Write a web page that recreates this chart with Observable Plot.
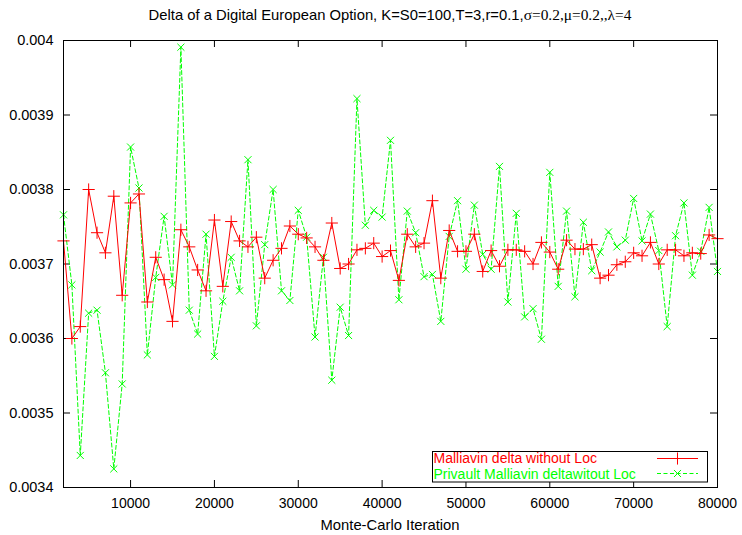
<!DOCTYPE html>
<html><head><meta charset="utf-8">
<script src="https://cdn.jsdelivr.net/npm/d3@7"></script>
<script src="https://cdn.jsdelivr.net/npm/@observablehq/plot@0.6"></script>
<style>body{margin:0;background:#fff} svg{display:block}</style>
</head><body><div id="chart"></div>
<script>
const iterations = [2000,3000,4000,5000,6000,7000,8000,9000,10000,11000,12000,13000,14000,15000,16000,17000,18000,19000,20000,21000,22000,23000,24000,25000,26000,27000,28000,29000,30000,31000,32000,33000,34000,35000,36000,37000,38000,39000,40000,41000,42000,43000,44000,45000,46000,47000,48000,49000,50000,51000,52000,53000,54000,55000,56000,57000,58000,59000,60000,61000,62000,63000,64000,65000,66000,67000,68000,69000,70000,71000,72000,73000,74000,75000,76000,77000,78000,79000,80000];

const malliavin = [0.003731,0.003600,0.003616,0.003800,0.003742,0.003715,0.003791,0.003658,0.003782,0.003794,0.003649,0.003709,0.003679,0.003623,0.003746,0.003723,0.003692,0.003664,0.003759,0.003670,0.003757,0.003731,0.003723,0.003736,0.003681,0.003705,0.003721,0.003751,0.003740,0.003735,0.003723,0.003705,0.003755,0.003694,0.003700,0.003719,0.003721,0.003728,0.003710,0.003718,0.003678,0.003740,0.003723,0.003728,0.003785,0.003681,0.003745,0.003717,0.003717,0.003740,0.003690,0.003718,0.003697,0.003719,0.003719,0.003717,0.003700,0.003729,0.003716,0.003693,0.003732,0.003720,0.003720,0.003726,0.003681,0.003685,0.003699,0.003703,0.003715,0.003711,0.003729,0.003700,0.003719,0.003719,0.003711,0.003715,0.003714,0.003739,0.003734];

const privault = [0.003766,0.003672,0.003443,0.003634,0.003638,0.003554,0.003425,0.003539,0.003857,0.003802,0.003578,0.003682,0.003764,0.003672,0.003991,0.003638,0.003606,0.003740,0.003576,0.003650,0.003709,0.003664,0.003840,0.003617,0.003726,0.003800,0.003664,0.003651,0.003772,0.003736,0.003602,0.003709,0.003544,0.003642,0.003604,0.003922,0.003752,0.003772,0.003763,0.003866,0.003652,0.003771,0.003742,0.003683,0.003686,0.003623,0.003737,0.003785,0.003693,0.003779,0.003713,0.003693,0.003831,0.003649,0.003768,0.003629,0.003640,0.003599,0.003823,0.003670,0.003771,0.003656,0.003756,0.003691,0.003716,0.003743,0.003723,0.003732,0.003788,0.003731,0.003767,0.003718,0.003616,0.003738,0.003782,0.003685,0.003717,0.003776,0.003690];

const yTicks = [0.0034,0.0035,0.0036,0.0037,0.0038,0.0039,0.004];
const yTickLabels = ["0.0034","0.0035","0.0036","0.0037","0.0038","0.0039","0.004"];
const xTicks = [10000,20000,30000,40000,50000,60000,70000,80000];
const xTickLabels = ["10000","20000","30000","40000","50000","60000","70000","80000"];
const seriesNames = ["Malliavin delta without Loc","Privault Malliavin deltawitout Loc"];
const xLabel = "Monte-Carlo Iteration";
const titleSans = "Delta of a Digital European Option, K=S0=100,T=3,r=0.1,";
const titleSerif = "\u03c3=0.2,\u03bc=0.2,,\u03bb=4";

const red = iterations.map((x, i) => ({x, y: malliavin[i]}));
const green = iterations.map((x, i) => ({x, y: privault[i]}));

const W = 742, H = 535, mL = 63, mR = 25, mT = 40, mB = 48;
const pw = W - mL - mR, ph = H - mT - mB, tk = 7;
const FONT = "'Liberation Sans', Arial, sans-serif";

const chart = Plot.plot({
  width: W, height: H,
  marginLeft: mL, marginRight: mR, marginTop: mT, marginBottom: mB,
  style: {fontFamily: FONT, fontSize: "14px", color: "#000", background: "#fff"},
  x: {domain: [2000, 80000]},
  y: {domain: [0.0034, 0.004]},
  marks: [
    Plot.axisY(yTicks, {tickSize: 0, tickPadding: 10, tickFormat: d => yTickLabels[yTicks.indexOf(d)], label: null, fontSize: 14.5}),
    Plot.axisX(xTicks, {tickSize: 0, tickPadding: 11, tickFormat: d => xTickLabels[xTicks.indexOf(d)], label: null, fontSize: 14}),
    Plot.tickY(yTicks, {y: d => d, insetRight: pw - tk, stroke: "#000"}),
    Plot.tickY(yTicks, {y: d => d, insetLeft: pw - tk, stroke: "#000"}),
    Plot.tickX(xTicks, {x: d => d, insetTop: ph - tk, stroke: "#000"}),
    Plot.tickX(xTicks, {x: d => d, insetBottom: ph - tk, stroke: "#000"}),
    Plot.line(green, {x: "x", y: "y", stroke: "#00ff00", strokeWidth: 1, strokeDasharray: "4,2.5"}),
    Plot.dot(green, {x: "x", y: "y", symbol: "times", r: 3.3, stroke: "#00ff00", strokeWidth: 1}),
    Plot.line(red, {x: "x", y: "y", stroke: "#ff0000", strokeWidth: 1}),
    Plot.dot(red, {x: "x", y: "y", symbol: "plus", r: 4, stroke: "#ff0000", strokeWidth: 1}),
    Plot.frame({stroke: "#000", strokeWidth: 1})
  ]
});

const svg = d3.select(chart);
// title
const t = svg.append("text").attr("x", mL + pw / 2).attr("y", 19.5).attr("text-anchor", "middle")
  .attr("font-size", 14.8).attr("fill", "#000").attr("font-family", FONT);
t.append("tspan").text(titleSans);
t.append("tspan").attr("font-family", "'Liberation Serif', serif").attr("font-size", 15.4).text(titleSerif);

// x axis label
svg.append("text").attr("x", mL + pw / 2).attr("y", 530).attr("text-anchor", "middle")
  .attr("font-size", 14.8).attr("font-family", FONT).attr("fill", "#000").text(xLabel);

// legend
const lg = svg.append("g").attr("text-anchor", "start");
lg.append("rect").attr("x", 432.5).attr("y", 451.5).attr("width", 275).attr("height", 30.5)
  .attr("fill", "#fff").attr("stroke", "#000");
const rows = [
  {name: seriesNames[0], color: "red", dash: "none", sym: d3.symbolPlus, size: 50, y: 458.5, base: 463},
  {name: seriesNames[1], color: "lime", dash: "4,2.5", sym: d3.symbolTimes, size: 34, y: 473.5, base: 478.8}
];
rows.forEach(r => {
  lg.append("text").attr("x", 433.5).attr("y", r.base).attr("text-anchor", "start").attr("font-size", 14)
    .attr("font-family", FONT).attr("fill", r.color).text(r.name);
  lg.append("path").attr("d", `M657,${r.y}H698`)
    .attr("fill", "none").attr("stroke", r.color).attr("stroke-width", 1).attr("stroke-dasharray", r.dash);
  lg.append("path").attr("d", d3.symbol(r.sym, r.size)()).attr("transform", `translate(677.5,${r.y})`)
    .attr("fill", "none").attr("stroke", r.color).attr("stroke-width", 1);
});

document.getElementById("chart").append(chart);
</script>
</body></html>
